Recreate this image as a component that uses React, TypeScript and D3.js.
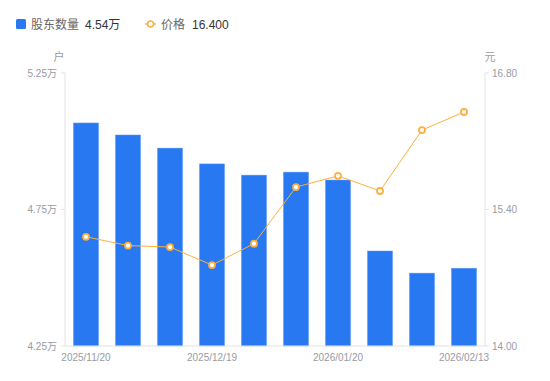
import React from "react";
import * as d3 from "d3";

const dates = ["2025/11/20", "2025/11/30", "2025/12/10", "2025/12/19", "2025/12/31", "2026/01/09", "2026/01/20", "2026/01/31", "2026/02/10", "2026/02/13"];
const holders = [5.067, 5.023, 4.975, 4.917, 4.876, 4.887, 4.858, 4.598, 4.517, 4.535];
const prices = [15.12, 15.03, 15.015, 14.83, 15.05, 15.63, 15.745, 15.59, 16.215, 16.4];
const leftTicks = [4.25, 4.75, 5.25];
const rightTicks = [14.0, 15.4, 16.8];
const shownLabels = ["2025/11/20", "2025/12/19", "2026/01/20", "2026/02/13"];

const W = 550, H = 381;
const L = 65, R = 485, T = 73, B = 346;
const BAR = "#2878F2";
const LINE = "#FDB03F";
const AX = "#999aa3";
const FONT = "'Liberation Sans', Arial, 'Noto Sans CJK SC', sans-serif";

export default function App() {
  const x = d3.scaleBand<string>().domain(dates).range([L, R]).paddingInner(0.4).paddingOuter(0.2);
  const xc = (d: string) => (x(d) as number) + x.bandwidth() / 2;
  const yl = d3.scaleLinear().domain([4.25, 5.25]).range([B, T]);
  const yr = d3.scaleLinear().domain([14, 16.8]).range([B, T]);
  const line = d3.line<number>().x((_, i) => xc(dates[i])).y((v) => yr(v));

  return (
    <svg width={W} height={H} style={{ position: "absolute", left: 0, top: 0, fontFamily: FONT }}>
      {/* legend */}
      <rect x={16} y={19} width={10} height={10} rx={1.5} fill={BAR} />
      <text x={31} y={28.5} fontSize={12} fill="#666">股东数量</text>
      <text x={85} y={28.5} fontSize={12} fill="#333">4.54万</text>
      <line x1={145} x2={156} y1={24} y2={24} stroke={LINE} strokeWidth={1.5} />
      <circle cx={150.5} cy={24} r={3} fill="#fff" stroke={LINE} strokeWidth={1.5} />
      <text x={161} y={28.5} fontSize={12} fill="#666">价格</text>
      <text x={192} y={28.5} fontSize={12} fill="#333">16.400</text>

      {/* unit labels */}
      <text x={59} y={61} fontSize={11} fill={AX} textAnchor="middle">户</text>
      <text x={490} y={61} fontSize={11} fill={AX} textAnchor="middle">元</text>

      {/* axes */}
      <line x1={L} x2={L} y1={T} y2={B} stroke="#e3e3e3" />
      <line x1={R} x2={R} y1={T} y2={B} stroke="#e3e3e3" />
      {leftTicks.map((t) => (
        <g key={"l" + t}>
          <line x1={L - 4} x2={L} y1={yl(t)} y2={yl(t)} stroke="#e3e3e3" />
          <text x={L - 8} y={yl(t) + 3.5} fontSize={10} fill={AX} textAnchor="end">{t.toFixed(2) + "万"}</text>
        </g>
      ))}
      {rightTicks.map((t) => (
        <g key={"r" + t}>
          <line x1={R} x2={R + 4} y1={yr(t)} y2={yr(t)} stroke="#e3e3e3" />
          <text x={R + 7} y={yr(t) + 3.5} fontSize={10} fill={AX}>{t.toFixed(2)}</text>
        </g>
      ))}

      {/* bars */}
      {holders.map((v, i) => (
        <rect key={i} x={x(dates[i])} y={yl(v)} width={x.bandwidth()} height={B - yl(v)} fill={BAR} stroke="#6aa2f7" strokeWidth={0.5} />
      ))}
      <line x1={L} x2={R} y1={B} y2={B} stroke="#e3e3e3" />
      {dates.filter((d) => shownLabels.includes(d)).map((d) => (
        <text key={d} x={xc(d)} y={361} fontSize={10} fill={AX} textAnchor="middle">{d}</text>
      ))}

      {/* line */}
      <path d={line(prices) as string} fill="none" stroke={LINE} strokeWidth={1} />
      {prices.map((v, i) => (
        <circle key={i} cx={xc(dates[i])} cy={yr(v)} r={3} fill="#fff" stroke={LINE} strokeWidth={1.8} />
      ))}
    </svg>
  );
}
